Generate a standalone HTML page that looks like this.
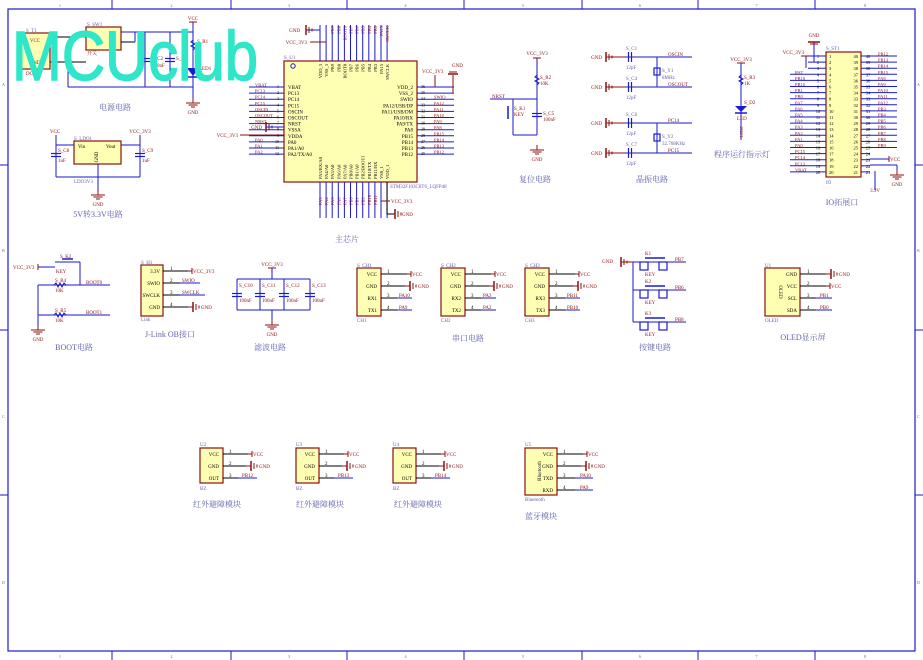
<!DOCTYPE html>
<html><head><meta charset="utf-8"><style>
html,body{margin:0;padding:0;background:#fff;width:923px;height:660px;overflow:hidden}
svg{display:block}
text{font-family:"Liberation Serif","Noto Serif CJK SC",serif}
text.wm{font-family:"Liberation Sans","DejaVu Sans",sans-serif}
</style></head><body>
<svg id="s" width="923" height="660" viewBox="0 0 923 660" xmlns="http://www.w3.org/2000/svg">
<rect x="0" y="0" width="923" height="660" fill="#fff"/>
</svg>
<script>
(function(){
const S=document.getElementById('s');const NS='http://www.w3.org/2000/svg';
const B='#1a1ad0',R='#8b1010',Y='#ffffb4',T='#6060b0',K='#000';
function el(n,a,t){const e=document.createElementNS(NS,n);for(const k in a)e.setAttribute(k,a[k]);if(t!==undefined)e.textContent=t;S.appendChild(e);return e;}
function L(x1,y1,x2,y2,c,w){el('line',{x1,y1,x2,y2,stroke:c||B,'stroke-width':w||1});}
function Rc(x,y,w,h,f,c,sw){el('rect',{x,y,width:w,height:h,fill:f||Y,stroke:c||R,'stroke-width':sw||1.2});}
function Tx(x,y,s,sz,c,a,rot){const o={x,y,'font-size':sz||5,fill:c||R,'text-anchor':a||'start'};if(rot)o.transform=`rotate(${rot} ${x} ${y})`;el('text',o,s);}
function gndL(x,y){L(x,y-5,x,y+5,R,1.5);L(x+3,y-3,x+3,y+3,R,1);L(x+6,y-1.5,x+6,y+1.5,R,1);}
function gndD(x,y){L(x,y,x,y+5,R,1);L(x-7,y+5,x+7,y+5,R,1);L(x-4.5,y+7,x+4.5,y+7,R,1);L(x-2,y+9,x+2,y+9,R,1);Tx(x,y+16,'GND',5,R,'middle');}
function gndR(x,y){L(x,y,x+5,y,R,1);L(x+5,y-5,x+5,y+5,R,1.5);L(x+8,y-3,x+8,y+3,R,1);L(x+11,y-1.5,x+11,y+1.5,R,1);Tx(x+13,y+2,'GND',5,R);}
function vccR(x,y,l){L(x,y,x+4,y,R,1);L(x+4,y-3,x+4,y+3,R,1);Tx(x+5,y+2,l,5,R);}
function capV(x,y){L(x-5,y-1.5,x+5,y-1.5,B,1.2);L(x-5,y+1.5,x+5,y+1.5,B,1.2);}
function capH(x,y){L(x-1.5,y-5,x-1.5,y+5,B,1.2);L(x+1.5,y-5,x+1.5,y+5,B,1.2);}
function resV(x,y){el('polyline',{points:`${x},${y-5} ${x-2},${y-3} ${x+2},${y-1} ${x-2},${y+1} ${x+2},${y+3} ${x},${y+5}`,fill:'none',stroke:B,'stroke-width':1});}
function resH(x,y){el('polyline',{points:`${x-6},${y} ${x-4},${y-2} ${x-2},${y+2} ${x},${y-2} ${x+2},${y+2} ${x+4},${y-2} ${x+6},${y}`,fill:'none',stroke:B,'stroke-width':1});}
// frame
Rc(8,9,907,642,'none',B,1.2);
const cols=[8,112,231,347,464,582,698,815,915];
for(let i=1;i<8;i++){L(cols[i],0,cols[i],9,B,1);L(cols[i],651,cols[i],660,B,1);}
for(let i=0;i<8;i++){Tx((cols[i]+cols[i+1])/2,7,String(i+1),4,T,'middle');Tx((cols[i]+cols[i+1])/2,658,String(i+1),4,T,'middle');}
[165,330,495].forEach(y=>{L(0,y,8,y,B,1);L(915,y,923,y,B,1);});
['A','B','C','D'].forEach((l,i)=>{Tx(2,86+i*166,l,4,T);Tx(917,86+i*166,l,4,T);});
// ===== 电源电路
Rc(20,33,30,36);Tx(35,42,'VCC',5,R,'middle');Tx(35,64,'GND',5,R,'middle');Tx(26,32,'S_T1',5,T);Tx(26,75,'DC-2P',5,R);
Rc(86,27,35,23);Tx(87,26,'S_SW1',5,T);Tx(87,55,'开关',5,R);
L(50,37,86,37,K);L(50,62,86,62,K);
L(121,32,193,32,B);L(121,42,135,42,K);L(135,42,135,32,B);
L(68,62,68,87,B);L(68,87,193,87,B);
L(145,32,145,87,B);capV(145,60);L(170,32,170,87,B);capV(170,60);
Tx(152,60,'S_C2',5,R);Tx(152,67,'100nF',5,R);Tx(176,60,'S_C3',5,R);
L(193,22,193,98,B);Tx(193,20,'VCC',5,R,'middle');L(189,22,197,22,R,1);
resV(193,45);Tx(197,43,'S_R1',5,R);
el('polygon',{points:'187,68 199,68 193,76',fill:B});L(187,77,199,77,B,1.5);Tx(199,70,'LED1',5,R);
gndD(193,98);
Tx(115,110,'电源电路',8,T,'middle');
// ===== LDO
Rc(74,141,47,23);Tx(78,148,'Vin',5,K);Tx(106,148,'Vout',5,K);Tx(98,157,'GND',5,K,'middle',-90);Tx(74,140,'S_LDO1',5,T);
L(56,135,56,177,B);L(56,145,74,145,B);L(121,145,140,145,B);L(140,135,140,177,B);
L(56,177,140,177,B);L(98,164,98,190,B);gndD(98,190);
Tx(55,133,'VCC',5,R,'middle');Tx(140,133,'VCC_3V3',5,R,'middle');
capV(56,155);capV(140,155);Tx(58,152,'S_C8',5,R);Tx(58,162,'1uF',5,R);Tx(142,152,'S_C9',5,R);Tx(142,162,'1uF',5,R);
Tx(74,183,'LDO3V3',5,T);
Tx(98,217,'5V转3.3V电路',8,T,'middle');
// ===== 主芯片
Rc(284,61,133,121);Tx(284,59,'S_U1',5,T);
el('circle',{cx:293,cy:66,r:2.2,fill:'none',stroke:B});
const lp=['VBAT','PC13','PC14','PC15','OSCIN','OSCOUT','NRST','VSSA','VDDA','PA0','PA1/A0','PA2/TX/A0'];
const ll=['VBAT','PC13','PC14','PC15','OSCIN','OSCOUT','NRST','','','PA0','PA1','PA2'];
lp.forEach((p,i)=>{const y=87+i*6.1;L(249,y,284,y,B);Tx(288,y+2,p,5,K);Tx(279,y+1,String(i+1),4,K,'end');if(ll[i])Tx(255,y-0.5,ll[i],4.5,R);});
gndL(266,127);L(266,127,284,127,B);Tx(262,129,'GND',5,R,'end');Tx(238,137,'VCC_3V3',5,R,'end');L(240,135,284,135,R);
const rp=['VDD_2','VSS_2','SWIO','PA12/USB/DP','PA11/USB/DM','PA10/RX','PA9/TX','PA8','PB15','PB14','PB13','PB12'];
const rl=['','','SWIO','PA12','PA11','PA10','PA9','PA8','PB15','PB14','PB13','PB12'];
rp.forEach((p,i)=>{const y=87+i*6.1;L(417,y,454,y,B);Tx(413,y+2,p,5,K,'end');Tx(421,y+1,String(36-i),4,K);if(rl[i])Tx(434,y-0.5,rl[i],4.5,R);});
L(435,87,435,75,R);Tx(422,73,'VCC_3V3',5,R);L(453,93,453,75,R);L(448,74,458,74,R,1.5);L(449,72,457,72,R);Tx(452,67,'GND',5,R);
const tp=['VDD_3','VSS_3','PB9','PB8','BOOT0','PB7','PB6','PB5','PB4','PB3','PA15','SWCLK'];
tp.forEach((p,i)=>{const x=320+i*6.1;L(x,25,x,61,B);Tx(x+2,64,p,4.5,K,'end',-90);if(i>1)Tx(x+2,26,p,4.5,R,'end',-90);});
L(306,30,320,30,B);gndL(306,30);Tx(300,32,'GND',5,R,'end');L(310,42,326,42,R);Tx(307,44,'VCC_3V3',5,R,'end');
const bp=['PA3/RX/A0','PA4/A0','PA5/A0','PA6/A0','PA7/A0','PB0/A0','PB1/A0','PB2/BOOT1','PB10/TX','PB11/RX','VSS_1','VDD_1'];
bp.forEach((p,i)=>{const x=320+i*6.1;L(x,182,x,218,B);Tx(x+2,179,p,4.5,K,'start',-90);if(i<10)Tx(x+2,205,bp[i].split('/')[0],4.5,R,'start',-90);});
L(387,182,387,214,K);L(387,214,395,214,K);gndL(395,214);Tx(402,216,'GND',5,R);
L(381,182,381,201,B);L(381,201,390,201,R);Tx(391,203,'VCC_3V3',5,R);
Tx(390,188,'STM32F103C8T6_LQFP48',5,T);
Tx(347,242,'主芯片',8,T,'middle');
// ===== 复位
L(537,58,537,135,B);Tx(537,55,'VCC_3V3',5,R,'middle');L(533,58,541,58,R);resV(537,80);Tx(540,79,'S_R2',5,R);Tx(540,85,'10K',5,R);
L(490,99,537,99,B);Tx(492,98,'NRST',5,R);L(513,99,513,135,B);L(513,135,537,135,B);
L(508,106,508,119,B,1.5);Tx(514,110,'S_K1',5,R);Tx(514,116,'KEY',5,R);
capV(537,115);Tx(543,115,'S_C5',5,R);Tx(543,121,'100nF',5,R);gndD(537,145);
Tx(535,182,'复位电路',8,T,'middle');
// 晶振
[[57,'OSCIN','S_C1'],[87,'OSCOUT','S_C4'],[123,'PC14','S_C6'],[153,'PC15','S_C7']].forEach(([y,l,c])=>{
 Tx(602,y+2,'GND',5,R,'end');gndL(606,y);L(606,y,625,y,R);L(625,y,692,y,B);capH(630,y);Tx(626,y-7,c,5,T);Tx(626,y+12,'12pF',5,T);Tx(668,y-1,l,5,R);});
L(657,57,657,87,B);Rc(654,68,6,7,'none',B);Tx(662,72,'S_Y1',5,T);Tx(662,79,'8MHz',5,T);
L(657,123,657,153,B);Rc(654,134,6,7,'none',B);Tx(662,138,'S_Y2',5,T);Tx(662,145,'32.768KHz',5,T);
Tx(652,182,'晶振电路',8,T,'middle');
// LED
L(741,63,741,140,B);Tx(741,61,'VCC_3V3',5,R,'middle');L(737,63,745,63,R);resV(741,80);Tx(744,79,'S_R3',5,R);Tx(744,85,'1K',5,R);
el('polygon',{points:'735,106 747,106 741,112',fill:B});L(735,113,747,113,B,1.5);Tx(744,104,'S_D2',5,R);Tx(737,120,'LED',5,R);Tx(743,132,'LED0',4.5,R,'middle',-90);
Tx(742,157,'程序运行指示灯',8,T,'middle');
// IO header
Rc(826,52,35,125);Tx(826,50,'S_ST1',5,T);Tx(826,184,'IO',5,T);
const lL=['','','','RST','PB10','PB10','PB1','PB0','PA7','PA6','PA5','PA4','PA3','PA2','PA1','PA0','PC15','PC14','PC13','VBAT'];
const rL=['PB12','PB13','PB14','PB15','PA8','PA9','PA10','PA11','PA12','PB3','PB4','PB5','PB6','PB7','PB8','PB9','','','',''];
for(let i=0;i<20;i++){const y=56+i*6.1;L(i<3?808:790,y,826,y,B);L(861,y,i<16?897:870,y,B);
 Tx(818,y+2,String(i+1),4.5,K,'middle');Tx(829,y+2,String(i+1),4.5,K);Tx(858,y+2,String(40-i),4.5,K,'end');Tx(868,y+2,String(40-i),4.5,K,'middle');
 if(lL[i])Tx(795,y-0.5,lL[i],4.5,R);if(rL[i])Tx(878,y-0.5,rL[i],4.5,R);}
L(806,56,806,68,B);Tx(804,54,'VCC_3V3',5,R,'end');L(801,56,810,56,R);
L(814,42,814,62,B);Tx(814,37,'GND',5,R,'middle');L(808,42,820,42,R,1.5);L(810,44,818,44,R);
vccR(885,159,'VCC');L(870,159,889,159,B);L(875,171,875,190,B);Tx(875,192,'3.3V',5,R,'middle');L(870,165,897,165,B);L(897,165,897,170,B);gndD(897,170);
Tx(842,205,'IO拓展口',8,T,'middle');
// BOOT
Tx(13,269,'VCC_3V3',5,R);L(38,267,55,267,B);L(38,264,38,270,R);L(55,262,80,262,B);L(62,259,73,259,B,1.5);Tx(60,258,'S_K2',5,R);Tx(56,273,'KEY',5,R);
L(80,262,80,285,B);L(38,285,110,285,B);resH(60,285);Tx(55,282,'S_R4',5,R);Tx(55,292,'10K',5,R);Tx(86,284,'BOOT0',5,R);
L(38,285,38,315,B);L(38,315,110,315,B);resH(60,315);Tx(55,312,'S_R5',5,R);Tx(55,322,'10K',5,R);Tx(86,314,'BOOT1',5,R);
L(38,315,38,325,B);gndD(38,325);
Tx(74,350,'BOOT电路',8,T,'middle');
// J-Link
Rc(141,265,22,51);Tx(141,264,'S_H1',5,T);Tx(141,321,'Link',5,T);
['3.3V','SWIO','SWCLK','GND'].forEach((p,i)=>{const y=271+i*12;Tx(160,y+2,p,5,K,'end');L(163,y,188,y,K);Tx(170,y-1,String(i+1),5,K);});
vccR(188,271,'VCC_3V3');Tx(182,282,'SWIO',5,R);L(180,283,200,283,B);Tx(182,294,'SWCLK',5,R);L(180,295,205,295,B);gndR(188,307);
Tx(170,337,'J-Link OB接口',8,T,'middle');
// 滤波
Tx(272,266,'VCC_3V3',5,R,'middle');L(268,268,276,268,R);L(272,268,272,279,B);L(237,279,310,279,B);L(237,310,310,310,B);
[237,260,284,310].forEach((x,i)=>{L(x,279,x,310,B);capV(x,295);Tx(x+2,287,'S_C1'+(i),5,R);Tx(x+2,302,'100nF',5,R);});
L(272,310,272,320,B);gndD(272,320);
Tx(270,350,'滤波电路',8,T,'middle');
// CH
[[357,'S_CH1','CH1','RX1','TX1','PA10','PA9'],[441,'S_CH2','CH2','RX2','TX2','PA3','PA2'],[525,'S_CH3','CH3','RX3','TX3','PB11','PB10']].forEach(([x,n,b,rx,tx,a,c])=>{
 Rc(x,268,24,48);Tx(x,267,n,5,T);Tx(x,322,b,5,T);
 ['VCC','GND',rx,tx].forEach((p,i)=>{const y=274+i*12;Tx(x+20,y+2,p,5,K,'end');L(x+24,y,x+50,y,K);Tx(x+30,y-1,String(i+1),5,K);});
 vccR(x+50,274,'VCC');gndR(x+48,286);Tx(x+42,297,a,5,R);L(x+40,298,x+55,298,B);Tx(x+42,309,c,5,R);L(x+40,310,x+55,310,B);});
Tx(468,341,'串口电路',8,T,'middle');
// keys
Tx(613,263,'GND',5,R,'end');gndL(621,262);L(621,262,640,262,R);L(633,262,633,322,B);
[[262,'K1','PB7'],[290,'K2','PB6'],[322,'K3','PB8']].forEach(([y,k,l])=>{
 L(633,y,686,y,B);L(645,y-4,665,y-4,B,1.5);Tx(645,y-7,k,5,R);
 Rc(640,y,8,8,'none',B,1.2);Rc(659,y,8,8,'none',B,1.2);Tx(645,y+14,'KEY',5,R);Tx(675,y-1,l,5,R);});
Tx(655,350,'按键电路',8,T,'middle');
// OLED
Rc(765,268,35,48);Tx(765,267,'U1',5,T);Tx(765,322,'OLED',5,T);Tx(779,292,'OLED',5,K,'middle',90);
['GND','VCC','SCL','SDA'].forEach((p,i)=>{const y=274+i*12;Tx(797,y+2,p,5,K,'end');L(800,y,826,y,K);Tx(807,y-1,String(i+1),5,K);});
gndR(826,274);vccR(826,286,'VCC');Tx(820,297,'PB1',5,R);L(816,298,832,298,B);Tx(820,309,'PB0',5,R);L(816,310,832,310,B);
Tx(803,340,'OLED显示屏',8,T,'middle');
// bottom modules
[[200,'U2','PB12',217],[296,'U3','PB13',320],[393,'U4','PB14',418]].forEach(([x,u,o,tx])=>{
 Rc(x,448,23,35);Tx(x,446,u,5,T);Tx(x,490,'BZ',5,T);
 ['VCC','GND','OUT'].forEach((p,i)=>{const y=454+i*12;Tx(x+19,y+2,p,5,K,'end');L(x+23,y,x+48,y,K);Tx(x+29,y-1,String(i+1),5,K);});
 vccR(x+48,454,'VCC');gndR(x+46,466);Tx(x+42,477,o,5,R);L(x+38,478,x+57,478,B);
 Tx(tx,507,'红外避障模块',8,T,'middle');});
Rc(525,448,32,47);Tx(525,446,'U5',5,T);Tx(525,501,'Bluetooth',5,T);Tx(541,471,'Bluetooth',5,K,'middle',-90);
['VCC','GND','TXD','RXD'].forEach((p,i)=>{const y=454+i*12;Tx(553,y+2,p,5,K,'end');L(557,y,583,y,K);Tx(563,y-1,String(i+1),5,K);});
vccR(583,454,'VCC');gndR(581,466);Tx(580,477,'PA10',5,R);L(575,478,593,478,B);Tx(580,489,'PA9',5,R);L(575,490,593,490,B);
Tx(541,519,'蓝牙模块',8,T,'middle');
// watermark
el('text',{class:'wm',x:12,y:80,'font-size':70,fill:'#2ee6c8',stroke:'#2ee6c8','stroke-width':1.5,textLength:246,lengthAdjust:'spacingAndGlyphs'},'MCUclub');
})();
</script>
</body></html>
